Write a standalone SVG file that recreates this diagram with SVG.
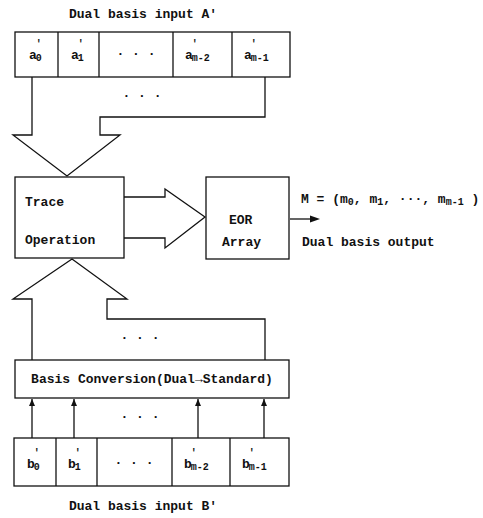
<svg xmlns="http://www.w3.org/2000/svg" width="483" height="518" viewBox="0 0 483 518">
<style>
.ln{fill:none;stroke:#111;stroke-width:1.3;stroke-linejoin:miter}
.bx{fill:#fff;stroke:#111;stroke-width:1.3}
text{font-family:"Liberation Mono","DejaVu Sans Mono",monospace;font-size:13px;font-weight:bold;fill:#111}
.c{text-anchor:middle}
.sb{font-size:10px}
.pr{font-size:10px}
</style>
<defs>
<marker id="ah" markerWidth="8" markerHeight="8" refX="7" refY="4" orient="auto" markerUnits="userSpaceOnUse">
<path d="M0,1 L7,4 L0,7 Z" fill="#111"/>
</marker>
</defs>
<rect width="483" height="518" fill="#fff"/>
<text x="143" y="18" class="c">Dual basis input A′</text>
<g id="regA">
<rect class="bx" x="15" y="32" width="275" height="45"/>
<line class="ln" x1="58" y1="32" x2="58" y2="77"/>
<line class="ln" x1="99" y1="32" x2="99" y2="77"/>
<line class="ln" x1="173" y1="32" x2="173" y2="77"/>
<line class="ln" x1="232" y1="32" x2="232" y2="77"/>
<text x="29" y="59">a<tspan class="pr" dx="-1" dy="-12">′</tspan><tspan class="sb" dx="-6" dy="14">0</tspan></text>
<text x="71" y="59">a<tspan class="pr" dx="-1" dy="-12">′</tspan><tspan class="sb" dx="-6" dy="14">1</tspan></text>
<text x="136" y="58" class="c">· · ·</text>
<text x="185" y="59">a<tspan class="pr" dx="-1" dy="-12">′</tspan><tspan class="sb" dx="-6" dy="14">m-2</tspan></text>
<text x="244" y="59">a<tspan class="pr" dx="-1" dy="-12">′</tspan><tspan class="sb" dx="-6" dy="14">m-1</tspan></text>
</g>
<g id="connectors">
<path class="ln" d="M32,77 V135 H13 L67,176 L120,135 H100 V117 H265 V77"/>
<text x="142" y="100" class="c">· · ·</text>
<path class="ln" d="M124,197 H165 V189 L205,217 L165,248 V238 H124"/>
<path class="ln" d="M290,219 H312"/>
<path d="M310,215.5 L320,219 L310,222.5 Z" fill="#111"/>
<path class="ln" d="M32,360 V299 H13 L72,259 L127,299 H107 V319 H265 V360"/>
<text x="140" y="342" class="c">· · ·</text>
<line class="ln" x1="32" y1="438" x2="32" y2="399" marker-end="url(#ah)"/>
<line class="ln" x1="74" y1="438" x2="74" y2="399" marker-end="url(#ah)"/>
<line class="ln" x1="198" y1="438" x2="198" y2="399" marker-end="url(#ah)"/>
<line class="ln" x1="264" y1="438" x2="264" y2="399" marker-end="url(#ah)"/>
<text x="140" y="421" class="c">· · ·</text>
</g>
<g id="trace">
<rect class="bx" x="15" y="177" width="109" height="81"/>
<text x="25" y="206">Trace</text>
<text x="25" y="244">Operation</text>
</g>
<g id="eor">
<rect class="bx" x="206" y="177" width="83" height="82"/>
<text x="229" y="224">EOR</text>
<text x="222" y="246">Array</text>
</g>
<g id="output">
<text x="301" y="203">M = (m<tspan class="sb" dy="2">0</tspan><tspan dy="-2">, m</tspan><tspan class="sb" dy="2">1</tspan><tspan dy="-2">, ···, m</tspan><tspan class="sb" dy="2">m-1</tspan><tspan dy="-2"> )</tspan></text>
<text x="302" y="246">Dual basis output</text>
</g>
<g id="conv">
<rect class="bx" x="15" y="360" width="274" height="38"/>
<text x="152" y="383" class="c">Basis Conversion(Dual→Standard)</text>
</g>
<g id="regB">
<rect class="bx" x="14" y="438" width="275" height="48"/>
<line class="ln" x1="56" y1="438" x2="56" y2="486"/>
<line class="ln" x1="97" y1="438" x2="97" y2="486"/>
<line class="ln" x1="172" y1="438" x2="172" y2="486"/>
<line class="ln" x1="230" y1="438" x2="230" y2="486"/>
<text x="27" y="468">b<tspan class="pr" dx="-1" dy="-12">′</tspan><tspan class="sb" dx="-6" dy="14">0</tspan></text>
<text x="68" y="468">b<tspan class="pr" dx="-1" dy="-12">′</tspan><tspan class="sb" dx="-6" dy="14">1</tspan></text>
<text x="134" y="467" class="c">· · ·</text>
<text x="184" y="468">b<tspan class="pr" dx="-1" dy="-12">′</tspan><tspan class="sb" dx="-6" dy="14">m-2</tspan></text>
<text x="242" y="468">b<tspan class="pr" dx="-1" dy="-12">′</tspan><tspan class="sb" dx="-6" dy="14">m-1</tspan></text>
</g>
<text x="143" y="510" class="c">Dual basis input B′</text>
</svg>
